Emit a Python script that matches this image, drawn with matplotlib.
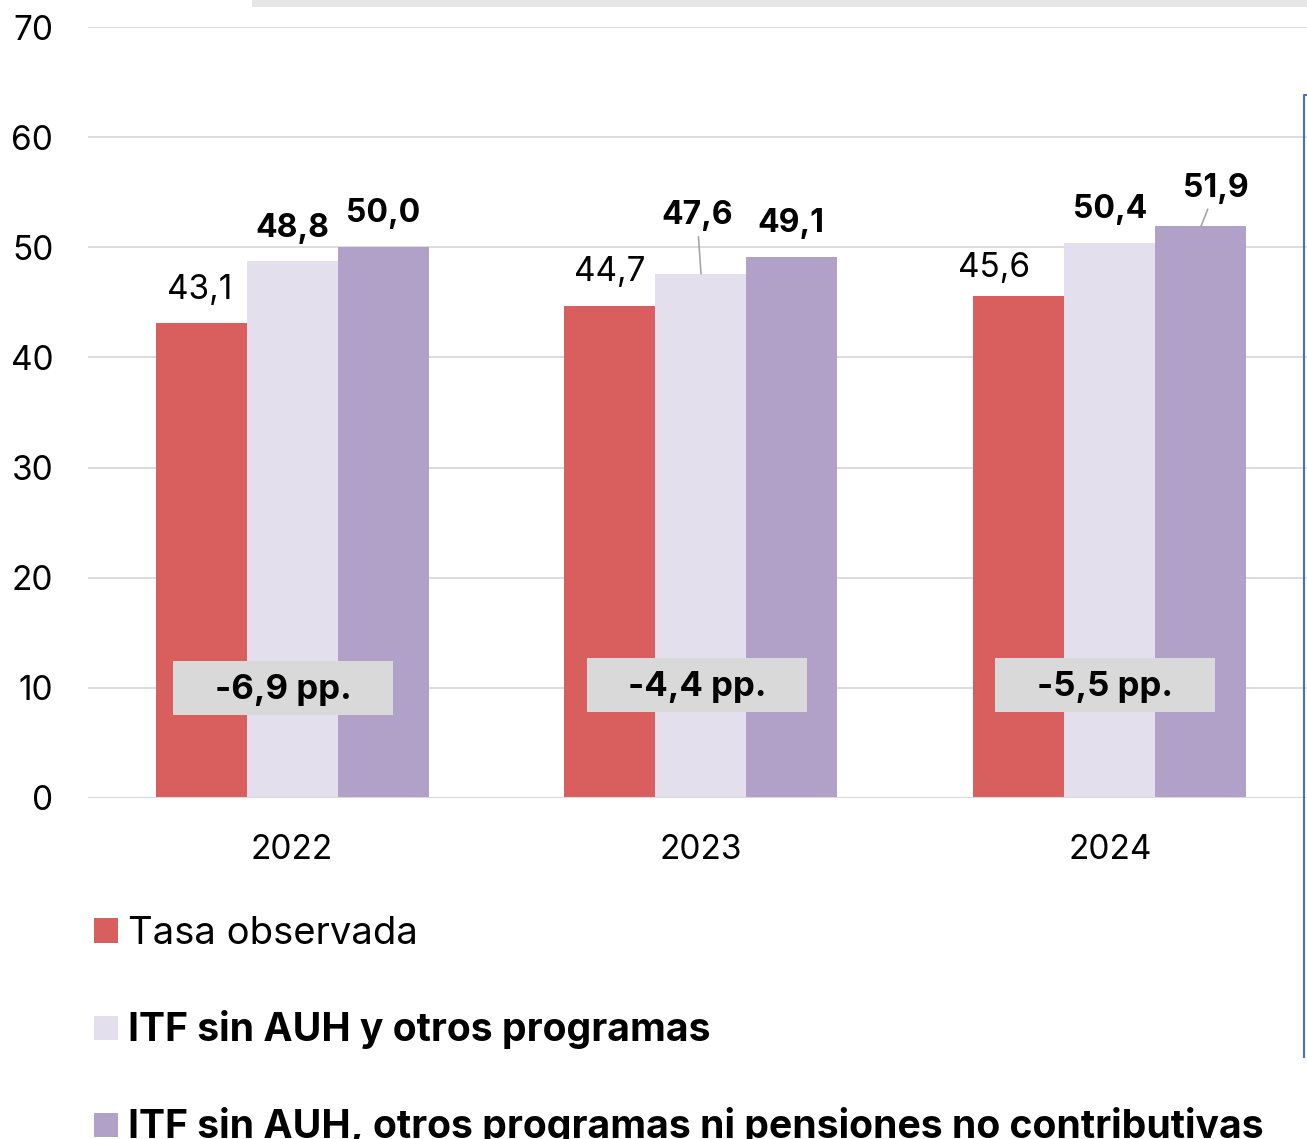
import matplotlib
matplotlib.use("Agg")
import matplotlib.pyplot as plt
from matplotlib.patches import Rectangle, Patch
from matplotlib.lines import Line2D
import numpy as np

plt.rcParams['font.family'] = ['Inter', 'DejaVu Sans']

years = ['2022', '2023', '2024']
series_names = ['Tasa observada', 'ITF sin AUH y otros programas',
                'ITF sin AUH, otros programas ni pensiones no contributivas']
tasa = [43.1, 44.7, 45.6]
sin_auh = [48.8, 47.6, 50.4]
sin_auh_pnc = [50.0, 49.1, 51.9]
gap_labels = ['-6,9 pp.', '-4,4 pp.', '-5,5 pp.']
yticks = [0, 10, 20, 30, 40, 50, 60, 70]

colors = ['#d95f5f', '#e4dfec', '#b1a0c7']
W, H = 1307, 1139
fig = plt.figure(figsize=(W / 100, H / 100), dpi=100)
ax = fig.add_axes([88 / W, (H - 798) / H, (W - 88) / W, (798 - 27) / H])

x = np.arange(len(years))
bw = 0.2225
data = [tasa, sin_auh, sin_auh_pnc]
for i, (vals, c) in enumerate(zip(data, colors)):
    ax.bar(x + (i - 1) * bw, vals, width=bw, color=c, zorder=2)

ax.set_ylim(0, 70)
ax.set_xlim(-0.4988, 2.4817)
ax.set_yticks(yticks)
ax.set_xticks(x)
ax.set_xticklabels(years)
ax.grid(axis='y', color='#d9d9d9', lw=1.3, zorder=0)
for s in ['top', 'right', 'left', 'bottom']:
    ax.spines[s].set_visible(False)
ax.axhline(0, color='#d9d9d9', lw=1.5, zorder=3)
ax.tick_params(axis='both', length=0, labelsize=24, colors='black')
ax.tick_params(axis='y', pad=25)
ax.tick_params(axis='x', pad=26)

def fmt(v):
    return f"{v:.1f}".replace('.', ',')

# label offsets in pixels (dx, dy) from bar top center
offsets = [
    [(-1, 33), (0, 34), (-25, 28)],
    [(0, 32), (-4, 58), (0, 33)],
    [(0, 34), (-1, 34), (15, 38)],
]
leaders = {(1, 1), (2, 2)}
for si, vals in enumerate(data):
    for gi, v in enumerate(vals):
        bx = x[gi] + (si - 1) * bw
        kw = {}
        if (si, gi) in leaders:
            kw['arrowprops'] = dict(arrowstyle='-', color='#a6a6a6', lw=1.2,
                                    shrinkA=2, shrinkB=0)
        ax.annotate(fmt(v), xy=(bx, v), xytext=offsets[si][gi],
                    textcoords='offset pixels', ha='center', va='center',
                    fontsize=24 if si == 0 else 23,
                    fontweight='bold' if si > 0 else 'normal',
                    zorder=5, **kw)

# gap boxes
box_dx = [-0.022, -0.010, -0.012]
box_y = [10.0, 10.25, 10.25]
for gi, lab in enumerate(gap_labels):
    cx = x[gi] + box_dx[gi]
    ax.add_patch(Rectangle((cx - 0.269, box_y[gi] - 2.45), 0.538, 4.9,
                           facecolor='#d9d9d9', edgecolor='none', zorder=4))
    ax.text(cx, box_y[gi] - 0.15, lab, ha='center', va='center', fontsize=25,
            fontweight='bold', zorder=5)

handles = [Patch(facecolor=c, edgecolor='none') for c in colors]
leg = fig.legend(handles, series_names, loc='upper left',
                 bbox_to_anchor=(79 / W, 1 - 901 / H), frameon=False,
                 fontsize=27.5, handlelength=0.62, handleheight=0.62,
                 handletextpad=0.26, labelspacing=1.52, borderaxespad=0)
for i, t in enumerate(leg.get_texts()):
    if i > 0:
        t.set_fontweight('bold')
        t.set_fontsize(28.2)

# decorative artifacts from the source screenshot
fig.add_artist(Rectangle((252 / W, 1 - 7 / H), 1 - 252 / W, 7 / H,
                         transform=fig.transFigure, facecolor='#e6e6e6',
                         edgecolor='none'))
fig.add_artist(Line2D([1, 1304 / W, 1304 / W], [1 - 95 / H, 1 - 95 / H, 1 - 1057 / H],
                      transform=fig.transFigure, color='#4472c4', lw=1.5))

fig.savefig('out.png', dpi=100)
